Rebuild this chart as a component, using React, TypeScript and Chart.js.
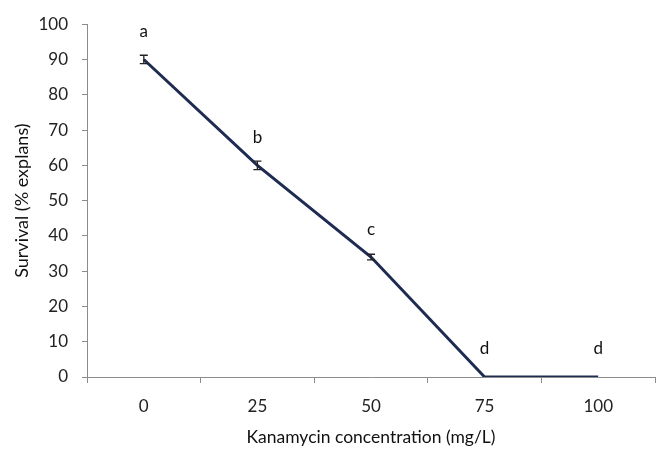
import React, { useEffect, useRef } from "react";
import { Chart, registerables } from "chart.js";

Chart.register(...registerables);

const categories = ["0", "25", "50", "75", "100"];
const survival = [90, 60, 34, 0, 0];
const errors = [1.2, 1.2, 0.8, 0, 0];
const letters = ["a", "b", "c", "d", "d"];

const FONT = "Lato, 'Liberation Sans', sans-serif";
const LINE = "#1f2c52";

const annotPlugin = {
  id: "annot",
  afterDatasetsDraw(chart: any) {
    const ctx = chart.ctx;
    const meta = chart.getDatasetMeta(0);
    const ys = chart.scales.y;
    ctx.save();
    meta.data.forEach((pt: any, i: number) => {
      const x = pt.x;
      const e = errors[i];
      if (e > 0) {
        const yTop = ys.getPixelForValue(survival[i] + e);
        const yBot = ys.getPixelForValue(survival[i] - e);
        ctx.strokeStyle = "#222";
        ctx.lineWidth = 1.3;
        ctx.beginPath();
        ctx.moveTo(x, yTop);
        ctx.lineTo(x, yBot);
        ctx.moveTo(x - 4, yTop);
        ctx.lineTo(x + 4, yTop);
        ctx.moveTo(x - 4, yBot);
        ctx.lineTo(x + 4, yBot);
        ctx.stroke();
      }
      ctx.fillStyle = "#111";
      ctx.font = `17px ${FONT}`;
      ctx.textAlign = "center";
      ctx.textBaseline = "middle";
      ctx.fillText(letters[i], x, pt.y - 28);
    });
    ctx.restore();
  },
};

export default function App() {
  const ref = useRef<HTMLCanvasElement>(null);
  useEffect(() => {
    if (!ref.current) return;
    const chart = new Chart(ref.current, {
      type: "line",
      data: {
        labels: categories,
        datasets: [
          {
            data: survival,
            borderColor: LINE,
            borderWidth: 3,
            pointRadius: 0,
            tension: 0,
            fill: false,
          },
        ],
      },
      plugins: [annotPlugin],
      options: {
        responsive: false,
        animation: false,
        devicePixelRatio: 1,
        layout: { padding: { left: 0, top: 19, right: 10, bottom: 0 } },
        plugins: { legend: { display: false }, tooltip: { enabled: false } },
        scales: {
          x: {
            type: "category",
            offset: true,
            grid: {
              offset: true,
              drawOnChartArea: false,
              drawTicks: true,
              tickLength: 6,
              color: "#8c8c8c",
            },
            border: { display: true, color: "#8c8c8c", width: 1 },
            ticks: {
              color: "#222",
              font: { family: FONT, size: 17 },
              padding: 13,
              maxRotation: 0,
            },
            title: {
              display: true,
              text: "Kanamycin concentration (mg/L)",
              color: "#111",
              font: { family: FONT, size: 17.5 },
              padding: { top: 0, bottom: 1 },
            },
            afterFit: (s: any) => {
              s.height = 72;
            },
          },
          y: {
            min: 0,
            max: 100,
            ticks: {
              stepSize: 10,
              color: "#222",
              font: { family: FONT, size: 17 },
              padding: 14,
            },
            grid: {
              drawOnChartArea: false,
              drawTicks: true,
              tickLength: 5,
              color: "#8c8c8c",
            },
            border: { display: true, color: "#8c8c8c", width: 1 },
            title: {
              display: true,
              text: "Survival (% explans)",
              color: "#111",
              font: { family: FONT, size: 18 },
              padding: { top: 11, bottom: 0 },
            },
            afterFit: (s: any) => {
              s.width = 87;
            },
          },
        },
      },
    });
    return () => chart.destroy();
  }, []);
  return (
    <div style={{ position: "fixed", left: 0, top: 0, width: 665, height: 449, background: "#fff" }}>
      <canvas ref={ref} width={665} height={449} />
    </div>
  );
}
